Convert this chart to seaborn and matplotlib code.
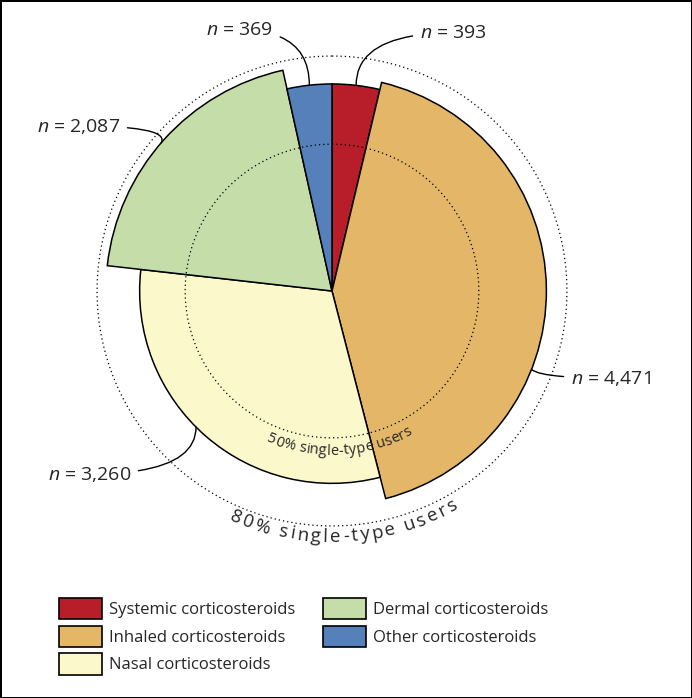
import numpy as np
import pandas as pd
import matplotlib
matplotlib.use("Agg")
import matplotlib.pyplot as plt
import seaborn as sns
from matplotlib.patches import Patch

# corticosteroid user groups
categories = ["Systemic corticosteroids", "Inhaled corticosteroids", "Nasal corticosteroids",
              "Dermal corticosteroids", "Other corticosteroids"]
counts = [393, 4471, 3260, 2087, 369]
single_type_pct = [70.5, 73, 65.5, 77, 70.5]   # radius of each slice
colors = ["#B81D2A", "#E3B668", "#FBF9CB", "#C4DDA9", "#5680BA"]
count_labels = ["$n$ = 393", "$n$ = 4,471", "$n$ = 3,260", "$n$ = 2,087", "$n$ = 369"]
rings = [80, 50]
ring_labels = ["80% single-type users", "50% single-type users"]

sns.set_style("white")
plt.rcParams['font.family'] = ['Open Sans', 'DejaVu Sans']
plt.rcParams['mathtext.fontset'] = 'custom'
plt.rcParams['mathtext.rm'] = 'Open Sans'
plt.rcParams['mathtext.it'] = 'Open Sans:italic'

df = pd.DataFrame({"type": categories, "n": counts, "pct": single_type_pct, "color": colors})
df["width"] = df["n"] / df["n"].sum() * 2 * np.pi
df["start"] = df["width"].cumsum() - df["width"]
df["mid"] = df["start"] + df["width"] / 2

W, H = 692, 698
RMAX = 95
fig = plt.figure(figsize=(W / 100, H / 100), dpi=100, edgecolor="black", linewidth=2)
ax = fig.add_axes([53 / W, 128 / H, 558 / W, 558 / H], projection="polar")
ax.set_theta_offset(np.pi / 2)
ax.set_theta_direction(-1)
ax.set_ylim(0, RMAX)
ax.axis("off")

ax.bar(df["mid"], df["pct"], width=df["width"], color=df["color"],
       edgecolor="black", linewidth=1.1, zorder=2)

circ = np.linspace(0, 2 * np.pi, 600)
for r in rings:
    ax.plot(circ, np.full_like(circ, r), color="black", lw=0.9, ls=(0, (1, 2.4)), zorder=3)

renderer = fig.canvas.get_renderer()
px_per_unit = 558 / 2 / RMAX


def char_width(ch, size):
    t1 = fig.text(0, 0, "|" + ch + "|", fontsize=size)
    t2 = fig.text(0, 0, "||", fontsize=size)
    w = t1.get_window_extent(renderer).width - t2.get_window_extent(renderer).width
    t1.remove()
    t2.remove()
    return w


def curved_text(text, r, center_deg, size, track):
    widths = [char_width(c, size) for c in text]
    total = sum(widths) + track * (len(text) - 1)
    r_px = r * px_per_unit
    phi = np.radians(center_deg) - total / 2 / r_px
    for c, w in zip(text, widths):
        p = phi + w / 2 / r_px
        ax.text(np.pi / 2 - p, r, c, fontsize=size, rotation=np.degrees(p) + 90,
                rotation_mode="anchor", ha="center", va="baseline", zorder=4)
        phi += (w + track) / r_px


curved_text(ring_labels[0], 85.5, -87, 13.5, 2.5)
curved_text(ring_labels[1], 55.8, -87, 10.5, 0.2)

# count labels with curved leader lines
text_pos = [(420, 33, "left"), (571, 378, "left"), (131, 474, "right"),
            (120, 126, "right"), (273, 30, "right")]
anchor_shift = [0, 22, 4, -1, 0]
angle_b = [90, -45, 90, 60, 90]
for i, row in df.iterrows():
    x, y, ha = text_pos[i]
    ax.annotate(count_labels[i], xy=(row["mid"] + np.radians(anchor_shift[i]), row["pct"]),
                xytext=(x / W, 1 - y / H), textcoords="figure fraction",
                ha=ha, va="center", fontsize=14, annotation_clip=False,
                arrowprops=dict(arrowstyle="-", color="black", lw=1, shrinkA=3, shrinkB=0,
                                connectionstyle=f"angle3,angleA=0,angleB={angle_b[i]}"))

handles = [Patch(facecolor=c, edgecolor="black", linewidth=1.2, label=l)
           for c, l in zip(colors, categories)]
fig.legend(handles=handles, ncol=2, loc="upper left", bbox_to_anchor=(59 / W, 1 - 598 / H),
           frameon=False, fontsize=12, handlelength=2.6, handleheight=1.6,
           handletextpad=0.4, labelspacing=0.37, columnspacing=1.65,
           borderpad=0, borderaxespad=0)

fig.savefig("out.png", dpi=100, edgecolor=fig.get_edgecolor())
